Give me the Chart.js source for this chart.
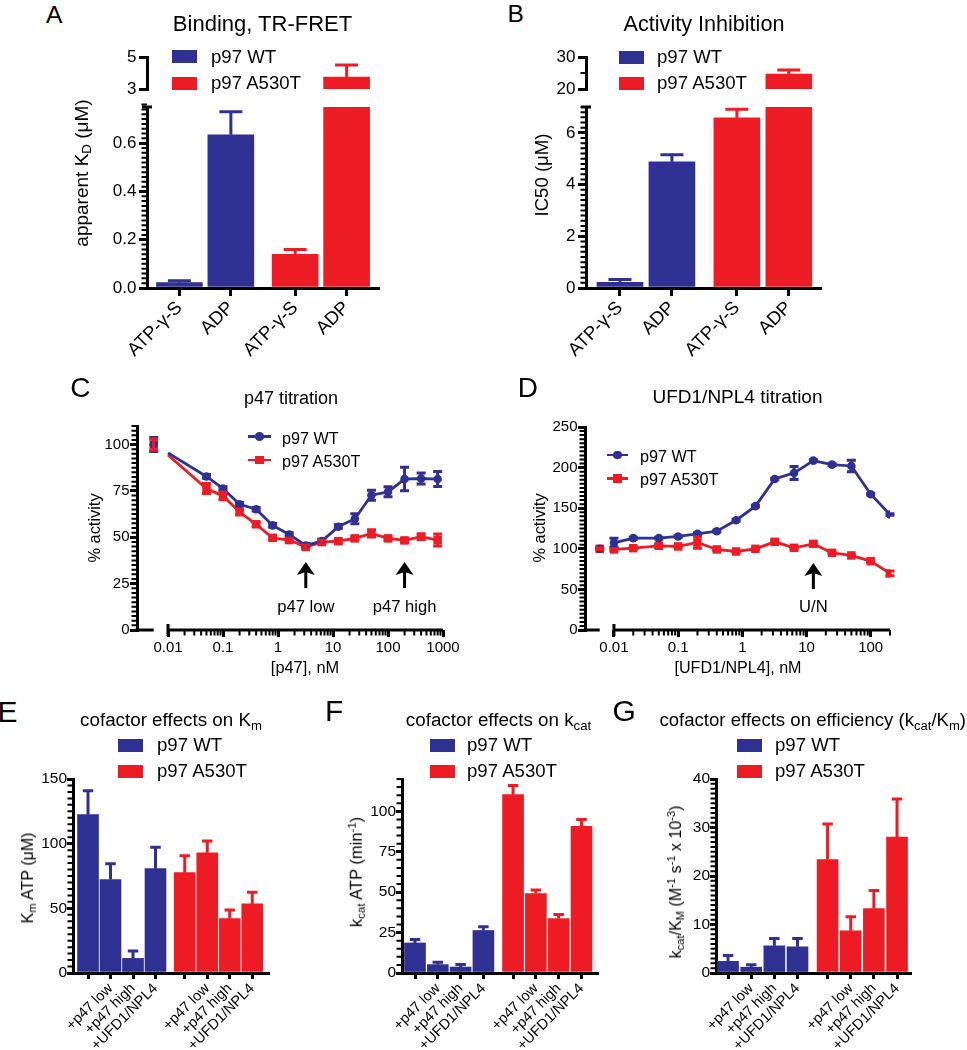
<!DOCTYPE html>
<html>
<head>
<meta charset="utf-8">
<title>p97 WT vs A530T</title>
<script src="https://cdn.jsdelivr.net/npm/chart.js@4.4.1/dist/chart.umd.min.js"></script>
<style>
  body { margin: 0; background: #fff; }
  #fig { position: relative; width: 967px; height: 1050px; overflow: hidden;
         font-family: 'Liberation Sans', Arial, sans-serif; color: #000; }
  #fig canvas { position: absolute; }
  .t { position: absolute; white-space: nowrap; }
  .sub { font-size: 0.7em; vertical-align: -0.28em; line-height: 0; }
  .sup { font-size: 0.7em; vertical-align: 0.5em; line-height: 0; }
  .box { position: absolute; }
</style>
</head>
<body>
<div id="fig"></div>
<script>
const BLUE = '#2E3192';
const RED = '#ED1C24';

// A / B: nucleotide binding and inhibition
const nucLabels = ['ATP-γ-S', 'ADP', 'ATP-γ-S', 'ADP'];
const nucPos = [1, 2, 3.25, 4.25];

const aWT = [0.022, 0.635];
const aWTErr = [0.008, 0.095];
const aMut = [0.14, 3.75];
const aMutErr = [0.02, 0.75];
const aLowTicks = [0, 0.2, 0.4, 0.6];
const aLowLabels = ['0.0', '0.2', '0.4', '0.6'];
const aHighTicks = [3, 5];
const aHighLabels = ['3', '5'];

const bWT = [0.22, 4.88];
const bWTErr = [0.11, 0.27];
const bMut = [6.58, 24.7];
const bMutErr = [0.33, 1.2];
const bLowTicks = [0, 2, 4, 6];
const bLowLabels = ['0', '2', '4', '6'];
const bHighTicks = [20, 30];
const bHighLabels = ['20', '30'];

// C: p47 titration
const cConc = [0.01, 0.05, 0.1, 0.2, 0.4, 0.8, 1.6, 3.2, 6.25, 12.5, 25, 50, 100, 200, 400, 800];
const cWT = [95.5, 82.8, 76.3, 67.8, 65.1, 56.4, 51.5, 45.6, 47.9, 55.7, 60, 72.7, 74.5, 81.4, 81.7, 81.4];
const cWTErr = [0, 1, 1, 1, 1, 1, 1, 1, 1, 1, 2.7, 2.7, 2.7, 6.3, 3, 4];
const cMut = [94.4, 76.3, 72.3, 63.6, 57, 49.7, 48.5, 44.8, 47.4, 47.9, 49.4, 52.1, 49.4, 48.3, 50.3, 48.5];
const cMutErr = [0, 2.7, 2, 1.5, 1, 1, 1, 1, 1, 1, 1, 2, 1, 1, 1.5, 3.2];
const cCtrl = [100, 100];      // no p47, shown on the axis break
const cCtrlErr = [3.8, 3];
const cCtrlPos = 0.0055;
const cTicks = [0.01, 0.1, 1, 10, 100, 1000];
const cTickLabels = ['0.01', '0.1', '1', '10', '100', '1000'];
const cYTicks = [0, 25, 50, 75, 100];
const cArrowConc = [3.2, 200];
const cArrowText = ['p47 low', 'p47 high'];

// D: UFD1/NPL4 titration
const dConc = [0.01, 0.02, 0.05, 0.1, 0.2, 0.4, 0.8, 1.6, 3.2, 6.4, 12.8, 25, 50, 100, 200];
const dWT = [107.4, 113.1, 113.1, 115.2, 118.4, 121.7, 135.2, 152.5, 186, 193.4, 208.6, 203.7, 202, 167.2, 142.2];
const dWTErr = [5.7, 1, 1, 1, 1, 1, 1, 1, 1, 8, 1, 1, 7, 1, 1];
const dMut = [99.2, 100.8, 103.7, 102.9, 107.8, 99.2, 96.7, 100, 108.6, 101.2, 106.1, 95.1, 91.8, 84.8, 69.7];
const dMutErr = [1, 1, 2, 1, 7, 1, 1, 1, 2, 2, 2, 1, 1, 1, 3];
const dCtrl = [100, 100];
const dCtrlErr = [1, 1];
const dCtrlPos = 0.006;
const dTicks = [0.01, 0.1, 1, 10, 100];
const dTickLabels = ['0.01', '0.1', '1', '10', '100'];
const dYTicks = [0, 50, 100, 150, 200, 250];
const dArrowConc = [12.8];
const dArrowText = ['U/N'];

// E-G: cofactor effects
const cofLabels = ['', '+p47 low', '+p47 high', '+UFD1/NPL4', '', '+p47 low', '+p47 high', '+UFD1/NPL4'];
const cofPos = [1, 2, 3, 4, 5.3, 6.3, 7.3, 8.3];
const eWT = [122.4, 72.2, 11.3, 80.7];
const eWTErr = [18.6, 12.3, 5.7, 16.5];
const eMut = [77.6, 93, 42, 53.4];
const eMutErr = [13.1, 9, 6.7, 9];
const eTicks = [0, 50, 100, 150];
const fWT = [18.6, 5.2, 3.7, 26.3];
const fWTErr = [2.1, 1.4, 1.5, 2.3];
const fMut = [110.3, 49.1, 33.7, 90.7];
const fMutErr = [5.7, 2.2, 2.5, 4.3];
const fTicks = [0, 25, 50, 75, 100];
const gWT = [2.4, 1.2, 5.6, 5.4];
const gWTErr = [1.2, 0.5, 1.5, 1.7];
const gMut = [23.4, 8.7, 13.3, 28];
const gMutErr = [7.3, 2.9, 3.7, 7.9];
const gTicks = [0, 10, 20, 30, 40];

Chart.defaults.font.family = "'Liberation Sans', Arial, sans-serif";
Chart.defaults.color = '#000';
Chart.defaults.animation = false;
Chart.defaults.plugins.legend.display = false;
Chart.defaults.plugins.tooltip.enabled = false;

const fig = document.getElementById('fig');

// error bars, minor ticks, axis breaks and arrows
const decor = {
  id: 'decor',
  afterDatasetsDraw(chart, args, o) {
    const ctx = chart.ctx, a = chart.chartArea, ys = chart.scales.y;
    ctx.save();
    if (o.clip) {
      ctx.beginPath();
      ctx.rect(a.left, a.top, a.right - a.left, a.bottom - a.top);
      ctx.clip();
    }
    ctx.lineWidth = 3;
    chart.data.datasets.forEach((ds, di) => {
      if (!ds.errors) return;
      const meta = chart.getDatasetMeta(di);
      ctx.strokeStyle = ds.backgroundColor;
      meta.data.forEach((el, i) => {
        const err = ds.errors[i];
        if (!err) return;
        const v = ds.data[i].y;
        const top = ys.getPixelForValue(v + err);
        const bot = o.twoSided ? ys.getPixelForValue(v - err) : el.y;
        const w = o.capW / 2;
        ctx.beginPath();
        ctx.moveTo(el.x, bot); ctx.lineTo(el.x, top);
        ctx.moveTo(el.x - w, top); ctx.lineTo(el.x + w, top);
        if (o.twoSided) { ctx.moveTo(el.x - w, bot); ctx.lineTo(el.x + w, bot); }
        ctx.stroke();
      });
    });
    ctx.restore();
  },
  afterDraw(chart, args, o) {
    const ctx = chart.ctx, a = chart.chartArea;
    const xs = chart.scales.x, ys = chart.scales.y;
    ctx.save();
    ctx.strokeStyle = '#000';
    ctx.fillStyle = '#000';
    ctx.lineWidth = 2;
    ctx.beginPath();
    if (o.yMinor) {
      const n = Math.round((ys.max - ys.min) / o.yMinor);
      for (let k = 0; k <= n; k++) {
        const y = ys.getPixelForValue(ys.min + k * o.yMinor);
        ctx.moveTo(a.left, y); ctx.lineTo(a.left - 5.5, y);
      }
    }
    if (o.xMinorFrom) {
      for (let k = -3; k <= 3; k++) {
        for (let m = 2; m <= 9; m++) {
          const v = m * Math.pow(10, k);
          if (v < o.xMinorFrom || v > xs.max) continue;
          const x = xs.getPixelForValue(v);
          ctx.moveTo(x, a.bottom); ctx.lineTo(x, a.bottom + 5.5);
        }
      }
    }
    ctx.stroke();
    ctx.lineWidth = 3;
    if (o.capTop) {
      ctx.beginPath();
      ctx.moveTo(a.left - 5, a.top); ctx.lineTo(a.left + 5, a.top);
      ctx.stroke();
    }
    if (o.xBreak) {
      const x1 = xs.getPixelForValue(o.xBreak[0]);
      const x2 = xs.getPixelForValue(o.xBreak[1]);
      ctx.beginPath();
      ctx.moveTo(a.left - 1.5, a.bottom); ctx.lineTo(x1, a.bottom);
      ctx.moveTo(x2, a.bottom); ctx.lineTo(a.right, a.bottom);
      ctx.moveTo(x2, a.bottom - 6); ctx.lineTo(x2, a.bottom + 6);
      ctx.stroke();
    }
    if (o.arrowX) {
      ctx.font = "16.6px 'Liberation Sans', Arial, sans-serif";
      ctx.textAlign = 'center';
      o.arrowX.forEach((xv, i) => {
        const x = xs.getPixelForValue(xv);
        const yh = ys.getPixelForValue(o.arrowHead);
        const yt = ys.getPixelForValue(o.arrowTail);
        ctx.beginPath();
        ctx.moveTo(x, yt); ctx.lineTo(x, yh + 8);
        ctx.stroke();
        ctx.beginPath();
        ctx.moveTo(x, yh); ctx.lineTo(x - 9, yh + 13); ctx.lineTo(x, yh + 10); ctx.lineTo(x + 9, yh + 13);
        ctx.closePath();
        ctx.fill();
        ctx.fillText(o.arrowText[i], x, yt + 23.5);
      });
    }
    ctx.restore();
  }
};

// area = chart area in page pixels
function makeChart(area, cfg) {
  const m = { l: 70, t: 14, r: 34, b: 95 };
  const cv = document.createElement('canvas');
  cv.width = area.r - area.l + m.l + m.r;
  cv.height = area.b - area.t + m.t + m.b;
  cv.style.left = (area.l - m.l) + 'px';
  cv.style.top = (area.t - m.t) + 'px';
  fig.appendChild(cv);
  const sc = cfg.options.scales;
  sc.y.afterFit = s => { s.width = m.l; };
  const xShown = sc.x.display !== false;
  if (xShown) sc.x.afterFit = s => { s.height = m.b; };
  cfg.options.layout = { padding: { left: 0, top: m.t, right: m.r, bottom: xShown ? 0 : m.b } };
  cfg.options.responsive = false;
  cfg.options.devicePixelRatio = 1;
  cfg.options.events = [];
  cfg.plugins = [decor];
  return new Chart(cv, cfg);
}

function tickGrid(len) {
  return { display: true, drawOnChartArea: false, offset: false, color: '#000', lineWidth: 3, tickLength: len };
}
function axisLine() {
  return { display: true, color: '#000', width: 3 };
}

function barChart(area, o) {
  const half = o.pos.length / 2;
  const series = (vals, errs, pos, color) => ({
    data: vals.map((v, i) => ({ x: pos[i], y: v })),
    errors: errs,
    backgroundColor: color,
    borderWidth: 0,
    grouped: false,
    barThickness: o.barW,
    clip: 0
  });
  return makeChart(area, {
    type: 'bar',
    data: { datasets: [
      series(o.wt, o.wtErr, o.pos.slice(0, half), BLUE),
      series(o.mut, o.mutErr, o.pos.slice(half), RED)
    ] },
    options: {
      scales: {
        x: {
          type: 'linear', display: o.showX !== false, offset: false, bounds: 'data',
          min: o.xMin, max: o.xMax,
          afterBuildTicks: s => { s.ticks = o.pos.map(v => ({ value: v })); },
          ticks: { autoSkip: false, minRotation: 45, maxRotation: 45, padding: 1,
                   font: { size: o.xFont }, callback: (v, i) => o.labels[i] },
          grid: tickGrid(o.tick), border: axisLine()
        },
        y: {
          type: 'linear', min: o.yMin, max: o.yMax, bounds: 'data',
          afterBuildTicks: s => { s.ticks = o.yTicks.map(v => ({ value: v })); },
          ticks: { padding: o.pad, font: { size: o.yFont }, callback: (v, i) => o.yLabels[i] },
          grid: tickGrid(o.tick), border: axisLine()
        }
      },
      plugins: { decor: { clip: true, capW: o.barW / 2, yMinor: o.yMinor || 0, capTop: !!o.capTop } }
    }
  });
}

function lineChart(area, o) {
  const series = (ys, errs, color, style, r) => ({
    data: o.conc.map((x, i) => ({ x: x, y: ys[i] })),
    errors: errs, borderColor: color, backgroundColor: color, borderWidth: 2.8,
    pointStyle: style, pointRadius: c => (o.hideFirst && c.dataIndex === 0 ? 0 : r),
    pointBorderWidth: 0, tension: 0
  });
  const ctrl = (y, err, color, style, r) => ({
    data: [{ x: o.ctrlX, y: y }], errors: [err], borderColor: color, backgroundColor: color,
    showLine: false, pointStyle: style, pointRadius: r, pointBorderWidth: 0
  });
  return makeChart(area, {
    type: 'line',
    data: { datasets: [
      series(o.wt, o.wtErr, BLUE, 'circle', 4.3),
      series(o.mut, o.mutErr, RED, 'rect', 6),
      ctrl(o.ctrl[0], o.ctrlErr[0], BLUE, 'circle', 4.3),
      ctrl(o.ctrl[1], o.ctrlErr[1], RED, 'rect', 6)
    ] },
    options: {
      scales: {
        x: {
          type: 'logarithmic', min: o.xMin, max: o.xMax, bounds: 'data',
          afterBuildTicks: s => { s.ticks = o.xTicks.map(v => ({ value: v })); },
          ticks: { autoSkip: false, minRotation: 0, maxRotation: 0, padding: 2,
                   font: { size: 15 }, callback: (v, i) => o.xLabels[i] },
          grid: tickGrid(7), border: { display: false }
        },
        y: {
          type: 'linear', min: 0, max: o.yMax, bounds: 'data',
          afterBuildTicks: s => { s.ticks = o.yTicks.map(v => ({ value: v })); },
          ticks: { padding: 0.5, font: { size: 15 }, callback: (v, i) => String(o.yTicks[i]) },
          grid: tickGrid(7), border: axisLine()
        }
      },
      plugins: { decor: {
        twoSided: true, capW: 9, yMinor: o.yMinor, xMinorFrom: o.xTicks[0],
        xBreak: [o.ctrlX, o.xTicks[0]],
        arrowX: o.arrowX, arrowText: o.arrowText, arrowHead: o.arrowHead, arrowTail: o.arrowTail
      } }
    }
  });
}

// ---------- charts ----------
barChart({ l: 147, r: 378, t: 107, b: 288 }, {
  pos: nucPos, labels: nucLabels, wt: aWT, wtErr: aWTErr, mut: aMut, mutErr: aMutErr,
  xMin: 0.37, xMax: 4.86, yMin: 0, yMax: 0.75, yTicks: aLowTicks, yLabels: aLowLabels,
  barW: 46, xFont: 18.5, yFont: 17, yMinor: 0.02, capTop: true, tick: 8, pad: 2.5
});
barChart({ l: 147, r: 378, t: 57, b: 89 }, {
  pos: nucPos, labels: nucLabels, wt: aWT, wtErr: aWTErr, mut: aMut, mutErr: aMutErr,
  xMin: 0.37, xMax: 4.86, yMin: 3, yMax: 5, yTicks: aHighTicks, yLabels: aHighLabels,
  barW: 46, xFont: 18.5, yFont: 17, showX: false, tick: 8, pad: 2.5
});
barChart({ l: 586, r: 820, t: 107, b: 288 }, {
  pos: nucPos, labels: nucLabels, wt: bWT, wtErr: bWTErr, mut: bMut, mutErr: bMutErr,
  xMin: 0.346, xMax: 4.85, yMin: 0, yMax: 7, yTicks: bLowTicks, yLabels: bLowLabels,
  barW: 46, xFont: 18.5, yFont: 17, yMinor: 0.2, capTop: true, tick: 8, pad: 2.5
});
barChart({ l: 586, r: 820, t: 57, b: 89 }, {
  pos: nucPos, labels: nucLabels, wt: bWT, wtErr: bWTErr, mut: bMut, mutErr: bMutErr,
  xMin: 0.346, xMax: 4.85, yMin: 20, yMax: 30, yTicks: bHighTicks, yLabels: bHighLabels,
  barW: 46, xFont: 18.5, yFont: 17, yMinor: 5, showX: false, tick: 8, pad: 2.5
});

lineChart({ l: 137, r: 443, t: 426, b: 630 }, {
  conc: cConc, wt: cWT, wtErr: cWTErr, mut: cMut, mutErr: cMutErr, hideFirst: true,
  ctrl: cCtrl, ctrlErr: cCtrlErr, ctrlX: cCtrlPos,
  xMin: 0.00273, xMax: 1000, xTicks: cTicks, xLabels: cTickLabels,
  yMax: 110, yTicks: cYTicks, yMinor: 2.5,
  arrowX: cArrowConc, arrowText: cArrowText, arrowHead: 36.7, arrowTail: 22.6
});
lineChart({ l: 585, r: 890, t: 427, b: 630 }, {
  conc: dConc, wt: dWT, wtErr: dWTErr, mut: dMut, mutErr: dMutErr, hideFirst: false,
  ctrl: dCtrl, ctrlErr: dCtrlErr, ctrlX: dCtrlPos,
  xMin: 0.00354, xMax: 200, xTicks: dTicks, xLabels: dTickLabels,
  yMax: 250, yTicks: dYTicks, yMinor: 5,
  arrowX: dArrowConc, arrowText: dArrowText, arrowHead: 82.5, arrowTail: 50.5
});

barChart({ l: 73, r: 268, t: 779, b: 973 }, {
  pos: cofPos, labels: cofLabels, wt: eWT, wtErr: eWTErr, mut: eMut, mutErr: eMutErr,
  xMin: 0.333, xMax: 9.0, yMin: 0, yMax: 150, yTicks: eTicks, yLabels: eTicks.map(String),
  barW: 21, xFont: 14.6, yFont: 15.5, yMinor: 5, tick: 6, pad: 0
});
barChart({ l: 402, r: 597, t: 779, b: 973 }, {
  pos: cofPos, labels: cofLabels, wt: fWT, wtErr: fWTErr, mut: fMut, mutErr: fMutErr,
  xMin: 0.43, xMax: 8.98, yMin: 0, yMax: 120, yTicks: fTicks, yLabels: fTicks.map(String),
  barW: 21, xFont: 14.6, yFont: 15.5, yMinor: 5, tick: 6, pad: 0
});
barChart({ l: 716, r: 910, t: 779, b: 973 }, {
  pos: cofPos, labels: cofLabels, wt: gWT, wtErr: gWTErr, mut: gMut, mutErr: gMutErr,
  xMin: 0.48, xMax: 8.86, yMin: 0, yMax: 40, yTicks: gTicks, yLabels: gTicks.map(String),
  barW: 21, xFont: 14.6, yFont: 15.5, yMinor: 1, tick: 6, pad: 0
});

// ---------- text, legends ----------
function label(html, x, base, size, align) {
  const d = document.createElement('div');
  d.className = 't';
  d.innerHTML = html;
  d.style.fontSize = size + 'px';
  d.style.lineHeight = size + 'px';
  d.style.left = x + 'px';
  d.style.top = (base - 0.8465 * size) + 'px';
  if (align === 'center') d.style.transform = 'translateX(-50%)';
  else if (align === 'right') d.style.transform = 'translateX(-100%)';
  fig.appendChild(d);
}
function vlabel(html, cx, cy, size) {
  const d = document.createElement('div');
  d.className = 't';
  d.innerHTML = html;
  d.style.fontSize = size + 'px';
  d.style.lineHeight = size + 'px';
  d.style.left = cx + 'px';
  d.style.top = cy + 'px';
  d.style.transform = 'translate(-50%, -50%) rotate(-90deg)';
  fig.appendChild(d);
}
function box(x, y, w, h, color, radius) {
  const d = document.createElement('div');
  d.className = 'box';
  d.style.left = x + 'px';
  d.style.top = y + 'px';
  d.style.width = w + 'px';
  d.style.height = h + 'px';
  d.style.background = color;
  if (radius) d.style.borderRadius = radius;
  fig.appendChild(d);
}
function barLegend(x, y1, y2, tx, b1, b2, size) {
  box(x, y1, 25, 13, BLUE);
  box(x, y2, 25, 13, RED);
  label('p97 WT', tx, b1, size);
  label('p97 A530T', tx, b2, size);
}
function lineLegend(x0, x1, y1, y2, tx, b1, b2, size) {
  const mx = (x0 + x1) / 2;
  box(x0, y1 - 1.4, x1 - x0, 2.8, BLUE);
  box(mx - 4.3, y1 - 4.3, 8.6, 8.6, BLUE, '50%');
  box(x0, y2 - 1.4, x1 - x0, 2.8, RED);
  box(mx - 4.25, y2 - 4.25, 8.5, 8.5, RED);
  label('p97 WT', tx, b1, size);
  label('p97 A530T', tx, b2, size);
}

// panel letters
label('A', 46, 23.3, 24.5);
label('B', 507.5, 22.7, 24.5);
label('C', 70.3, 398, 28);
label('D', 517.8, 397.3, 28);
label('E', -2.4, 722.7, 30);
label('F', 325, 721.7, 30);
label('G', 612.6, 721.5, 30);

// titles
label('Binding, TR-FRET', 262.5, 31.7, 22, 'center');
label('Activity Inhibition', 704, 31.5, 21.6, 'center');
label('p47 titration', 291, 404.2, 18, 'center');
label('UFD1/NPL4 titration', 737.5, 403.3, 19, 'center');
label('cofactor effects on K<span class="sub">m</span>', 171, 726.5, 18.8, 'center');
label('cofactor effects on k<span class="sub">cat</span>', 498.5, 727, 18.8, 'center');
label('cofactor effects on efficiency (k<span class="sub">cat</span>/K<span class="sub">m</span>)', 966, 726.5, 18.6, 'right');

// legends
barLegend(172, 50, 76.7, 211, 63.3, 89.3, 18.6);
barLegend(619, 50.5, 77, 657, 63.3, 89.3, 18.6);
lineLegend(248, 271, 436.7, 460, 282, 443.3, 466.7, 16.2);
lineLegend(606.7, 628.3, 455, 478.3, 640, 461.7, 485, 16.2);
barLegend(118, 738.5, 765, 157, 751.7, 777.7, 18.6);
barLegend(430, 738.5, 765, 467, 751.7, 777.7, 18.6);
barLegend(736.7, 738.5, 765, 775, 751.7, 777.7, 18.6);

// axis titles
vlabel('apparent K<span class="sub">D</span> (μM)', 81, 172.5, 19);
vlabel('IC50 (μM)', 541.5, 175, 18.6);
vlabel('% activity', 93.8, 528, 16.4);
vlabel('% activity', 538.8, 528, 16.4);
vlabel('K<span class="sub">m</span> ATP (μM)', 28, 878, 16);
vlabel('k<span class="sub">cat</span> ATP (min<span class="sup">-1</span>)', 356, 872, 16.5);
vlabel('k<span class="sub">cat</span>/K<span class="sub">M</span> (M<span class="sup">-1</span> s<span class="sup">-1</span> x 10<span class="sup">-3</span>)', 676, 882, 16);
label('[p47], nM', 305, 672.7, 16.4, 'center');
label('[UFD1/NPL4], nM', 738, 673, 16.1, 'center');
</script>
</body>
</html>
